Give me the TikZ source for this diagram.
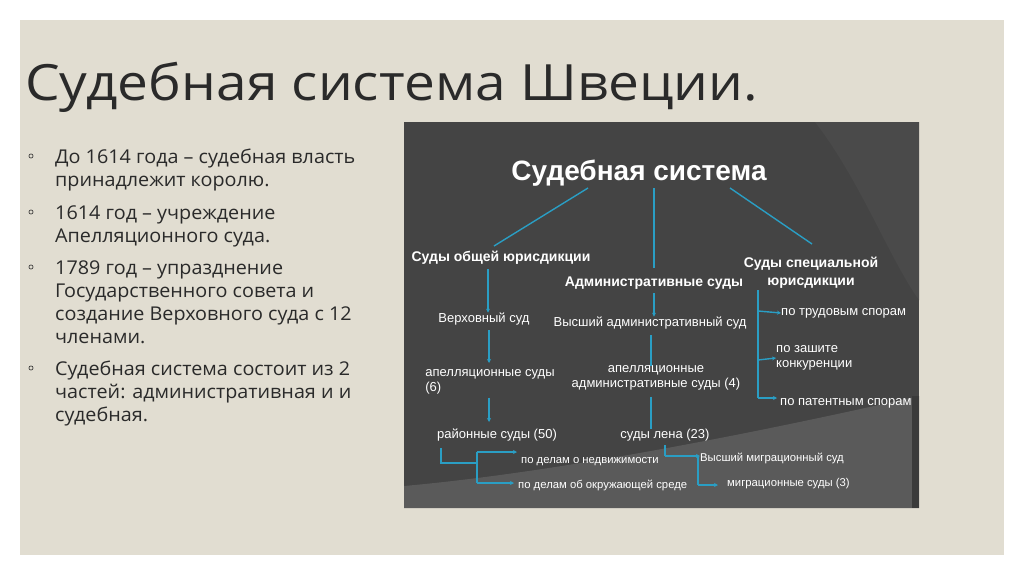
\documentclass[tikz,border=0pt]{standalone}
\usepackage{fontspec}
\setmainfont{Open Sans}
\newfontfamily\arialf{Liberation Sans}
\definecolor{slidebg}{HTML}{E1DDD1}
\definecolor{txtdark}{HTML}{2A2A2A}
\definecolor{boxbg}{HTML}{444444}
\definecolor{boxlight}{HTML}{5A5A5A}
\definecolor{boxmid}{HTML}{4A4A4A}
\definecolor{linec}{HTML}{2A9EC4}
\usetikzlibrary{arrows.meta}
\tikzset{
  lefttxt/.style={anchor=base west, inner sep=0pt, text=txtdark, font=\fontsize{19}{19}\selectfont},
  bul/.style={draw=txtdark, line width=0.6pt},
  wt/.style={text=white, inner sep=0pt, font=\arialf\fontsize{13}{15}\selectfont, align=center},
  wtb/.style={text=white, inner sep=0pt, font=\arialf\bfseries\fontsize{14}{18}\selectfont, align=center},
  wts/.style={text=white, inner sep=0pt, font=\arialf\fontsize{11.3}{13}\selectfont},
  conn/.style={draw=linec, line width=1.4pt},
  arr/.style={conn, -{Stealth[length=4pt,width=4pt]}},
}
\newcommand{\lt}[1]{\scalebox{1.04}[1]{#1}}
\begin{document}
\begin{tikzpicture}[x=1pt,y=-1pt]
\useasboundingbox (0,0) rectangle (1024,576);
\fill[white] (0,0) rectangle (1024,576);
\fill[slidebg] (20,20) rectangle (1004,555);
% title
\node[anchor=base west, inner sep=0pt, text=txtdark, font=\fontsize{50}{50}\selectfont] (title) at (25,100) {\scalebox{1.1}[1]{Судебная система Швеции.}};
% left bullets
\foreach \yy in {156,212,267,368} {\draw[bul] (31,\yy) circle (2.1);}
\node[lefttxt] (l1) at (55,163) {\lt{До 1614 года – судебная власть}};
\node[lefttxt] (l2) at (55,186) {\lt{принадлежит королю.}};
\node[lefttxt] (l3) at (55,219) {\lt{1614 год – учреждение}};
\node[lefttxt] (l4) at (55,242) {\lt{Апелляционного суда.}};
\node[lefttxt] (l5) at (55,274) {\lt{1789 год – упразднение}};
\node[lefttxt] (l6) at (55,297) {\lt{Государственного совета и}};
\node[lefttxt] (l7) at (55,320) {\lt{создание Верховного суда с 12}};
\node[lefttxt] (l8) at (55,343) {\lt{членами.}};
\node[lefttxt] (l9) at (55,375) {\lt{Судебная система состоит из 2}};
\node[lefttxt] (l10) at (55,398) {\lt{частей: административная и и}};
\node[lefttxt] (l11) at (55,421) {\lt{судебная.}};
% dark diagram box
\fill[boxbg] (404,122) rectangle (919,508);
\fill[boxmid] (815,122) .. controls (860,180) and (890,260) .. (919,300) -- (919,122) -- cycle;
\fill[boxlight] (404,486) .. controls (560,472) and (760,432) .. (919,396) -- (919,508) -- (404,508) -- cycle;
\fill[boxbg!85!black] (912,396) rectangle (919,508);
% nodes
\node[text=white, inner sep=0pt, font=\arialf\bfseries\fontsize{28}{28}\selectfont] (root) at (639,173) {Судебная система};
\node[wtb] (gen) at (501,258) {Суды общей юрисдикции};
\node[wtb] (adm) at (654,283) {Административные суды};
\node[wtb] (spec) at (811,273) {Суды специальной\\юрисдикции};
\node[wt] (verh) at (484,319) {Верховный суд};
\node[wt, align=left] (apel) at (490,382) {апелляционные суды\\(6)};
\node[wt] (rayon) at (497,435) {районные суды (50)};
\node[wt] (vad) at (650,323) {Высший административный суд};
\node[wt] (aad) at (656,378) {апелляционные\\административные суды (4)};
\node[wt] (lena) at (665,435) {суды лена (23)};
\node[wt, anchor=west] (trud) at (781,313) {по трудовым спорам};
\node[wt, align=left, anchor=west] (konk) at (776,358) {по зашите\\конкуренции};
\node[wt, anchor=west] (patent) at (780,403) {по патентным спорам};
\node[wts, anchor=west] (nedv) at (521,462) {по делам о недвижимости};
\node[wts, anchor=west] (okr) at (518,485) {по делам об окружающей среде};
\node[wts, anchor=west] (vmig) at (700,458) {Высший миграционный суд};
\node[wts, anchor=west] (mig) at (727,484) {миграционные суды (3)};
% named connector points
\coordinate (rL) at (588,188); \coordinate (gT) at (494,246);
\coordinate (rM) at (654,188); \coordinate (aT) at (654,268);
\coordinate (rR) at (730,188); \coordinate (sT) at (812,244);
% connectors
\draw[conn] (rL) -- (gT);
\draw[conn] (rM) -- (aT);
\draw[conn] (rR) -- (sT);
\draw[arr] (gen.south -| 488,0) ++(0,4) -- (verh.north -| 488,0);
\draw[arr] (verh.south -| 489,0) ++(0,5) -- (489,363);
\draw[arr] (apel.south -| 489,0) ++(0,3) -- (489,422);
\draw[arr] (adm.south -| 654,0) ++(0,4) -- (vad.north -| 654,0);
\draw[conn] (vad.south -| 651,0) ++(0,6) -- (651,366);
\draw[conn] (aad.south -| 651,0) ++(0,6) -- (651,429);
% special jurisdiction
\coordinate (sv) at (758,290);
\draw[conn] (sv) -- (758,398);
\draw[arr] (758,311) -- (trud.west);
\draw[arr] (758,360) -- (konk.west);
\draw[arr] (758,398) -- (777,398);
% district courts
\draw[conn] (441,448) -- (441,463) -- (477,463);
\draw[conn] (477,452) -- (477,483);
\draw[arr] (477,452) -- (517,452);
\draw[arr] (477,483) -- (514,483);
% county courts
\draw[conn] (665,445) -- (665,456);
\draw[arr] (665,456) -- (vmig.west |- 0,456);
\draw[conn] (698,457) -- (698,485);
\draw[arr] (698,485) -- (718,485);
\end{tikzpicture}
\end{document}
